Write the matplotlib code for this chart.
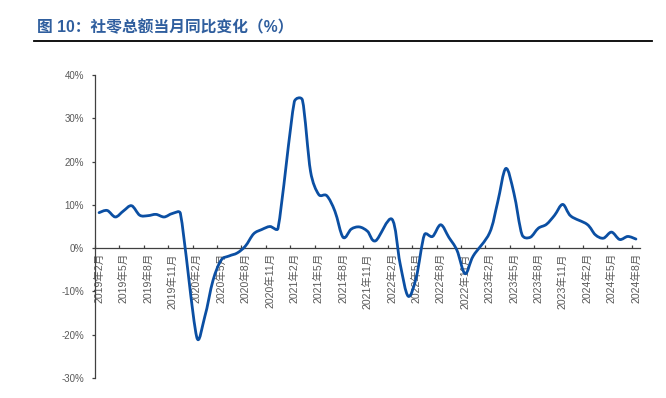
import numpy as np
import matplotlib
matplotlib.use("Agg")
import matplotlib.pyplot as plt
from matplotlib.path import Path
from matplotlib.patches import PathPatch
from matplotlib.lines import Line2D

plt.rcParams['font.family'] = ['Liberation Sans', 'Noto Sans CJK SC']

# 社零总额当月同比（%），2019年2月 - 2024年8月，1月无单月数据
start_year, start_month = 2019, 2
retail_yoy = [
    8.2, 8.7, 7.2, 8.6, 9.8, 7.6, 7.5, 7.8, 7.2, 8.0, 8.0,                    # 2019
    np.nan, -20.5, -15.8, -7.5, -2.8, -1.8, -1.1, 0.5, 3.3, 4.3, 5.0, 4.6,    # 2020
    np.nan, 33.8, 34.2, 17.7, 12.4, 12.1, 8.5, 2.5, 4.4, 4.9, 3.9, 1.7,       # 2021
    np.nan, 6.7, -3.5, -11.1, -6.7, 3.1, 2.7, 5.4, 2.5, -0.5, -5.9, -1.8,     # 2022
    np.nan, 3.5, 10.6, 18.4, 12.7, 3.1, 2.5, 4.6, 5.5, 7.6, 10.1, 7.4,        # 2023
    np.nan, 5.5, 3.1, 2.3, 3.7, 2.0, 2.7, 2.1,                                # 2024
]
month_labels = []
for i in range(len(retail_yoy)):
    m = start_month - 1 + i
    month_labels.append(f"{start_year + m // 12}年{m % 12 + 1}月")
y_ticks = [-30, -20, -10, 0, 10, 20, 30, 40]

line_color = '#0B4FA3'
text_gray = '#595959'
axis_color = '#404040'

fig = plt.figure(figsize=(6.66, 3.98), dpi=100)
ax = fig.add_axes([95 / 666, 20 / 398, 545 / 666, 303 / 398])

# smoothed line: catmull-rom bezier, tangent arms capped per segment
vals = np.array(retail_yoy, dtype=float)
idx = np.arange(len(vals))
ok = ~np.isnan(vals)
pts = np.column_stack([idx[ok], vals[ok]])
scale = np.array([8.13, 4.33])   # approx px per unit
P = pts * scale
ext = np.vstack([P[0], P, P[-1]])


def cap(t, seg):
    lim = 0.5 * np.hypot(*seg)
    n = np.hypot(*t)
    return t * (lim / n) if n > lim else t


verts = [tuple(pts[0])]
codes = [Path.MOVETO]
for i in range(1, len(ext) - 2):
    p0, p1, p2, p3 = ext[i - 1], ext[i], ext[i + 1], ext[i + 2]
    c1 = p1 + cap((p2 - p0) / 6, p2 - p1)
    c2 = p2 - cap((p3 - p1) / 6, p2 - p1)
    verts += [tuple(c1 / scale), tuple(c2 / scale), tuple(p2 / scale)]
    codes += [Path.CURVE4] * 3
patch = PathPatch(Path(verts, codes), fill=False, edgecolor=line_color,
                  lw=2.0, capstyle='round', joinstyle='round', zorder=3)
ax.add_patch(patch)

ax.set_xlim(-0.5, len(vals) - 0.5)
ax.set_ylim(-30, 40)

for s in ['top', 'right']:
    ax.spines[s].set_visible(False)
ax.spines['bottom'].set_position(('data', 0))
ax.spines['left'].set_color(axis_color)
ax.spines['bottom'].set_color(axis_color)
ax.spines['left'].set_linewidth(0.9)
ax.spines['bottom'].set_linewidth(0.9)

ax.set_yticks(y_ticks)
ax.set_yticklabels([f"{v}%" for v in y_ticks])
ax.tick_params(axis='y', direction='out', length=2.3, width=0.9,
               color=axis_color, labelsize=7, labelcolor=text_gray, pad=5.5)

ax.set_xticks(np.arange(-0.5, len(vals) - 1, 3))
ax.set_xticklabels([])
ax.set_xticks(idx[::3], minor=True)
ax.set_xticklabels(month_labels[::3], minor=True, rotation=90)
ax.tick_params(axis='x', which='major', direction='in', length=2.5, width=0.9,
               color=axis_color)
ax.tick_params(axis='x', which='minor', length=0, labelsize=7.6,
               labelcolor=text_gray, pad=3.6)

fig.text(37 / 666, 1 - 27.5 / 398, "图 10：社零总额当月同比变化（%）",
         fontsize=11.3, fontweight='bold', color='#2F5E9E',
         family=['Liberation Sans', 'Noto Sans CJK SC'], va='center', ha='left')
fig.add_artist(Line2D([34 / 666, 652 / 666], [1 - 40.7 / 398] * 2,
                      color='black', lw=1.3, transform=fig.transFigure))

fig.savefig("out.png", dpi=100)
